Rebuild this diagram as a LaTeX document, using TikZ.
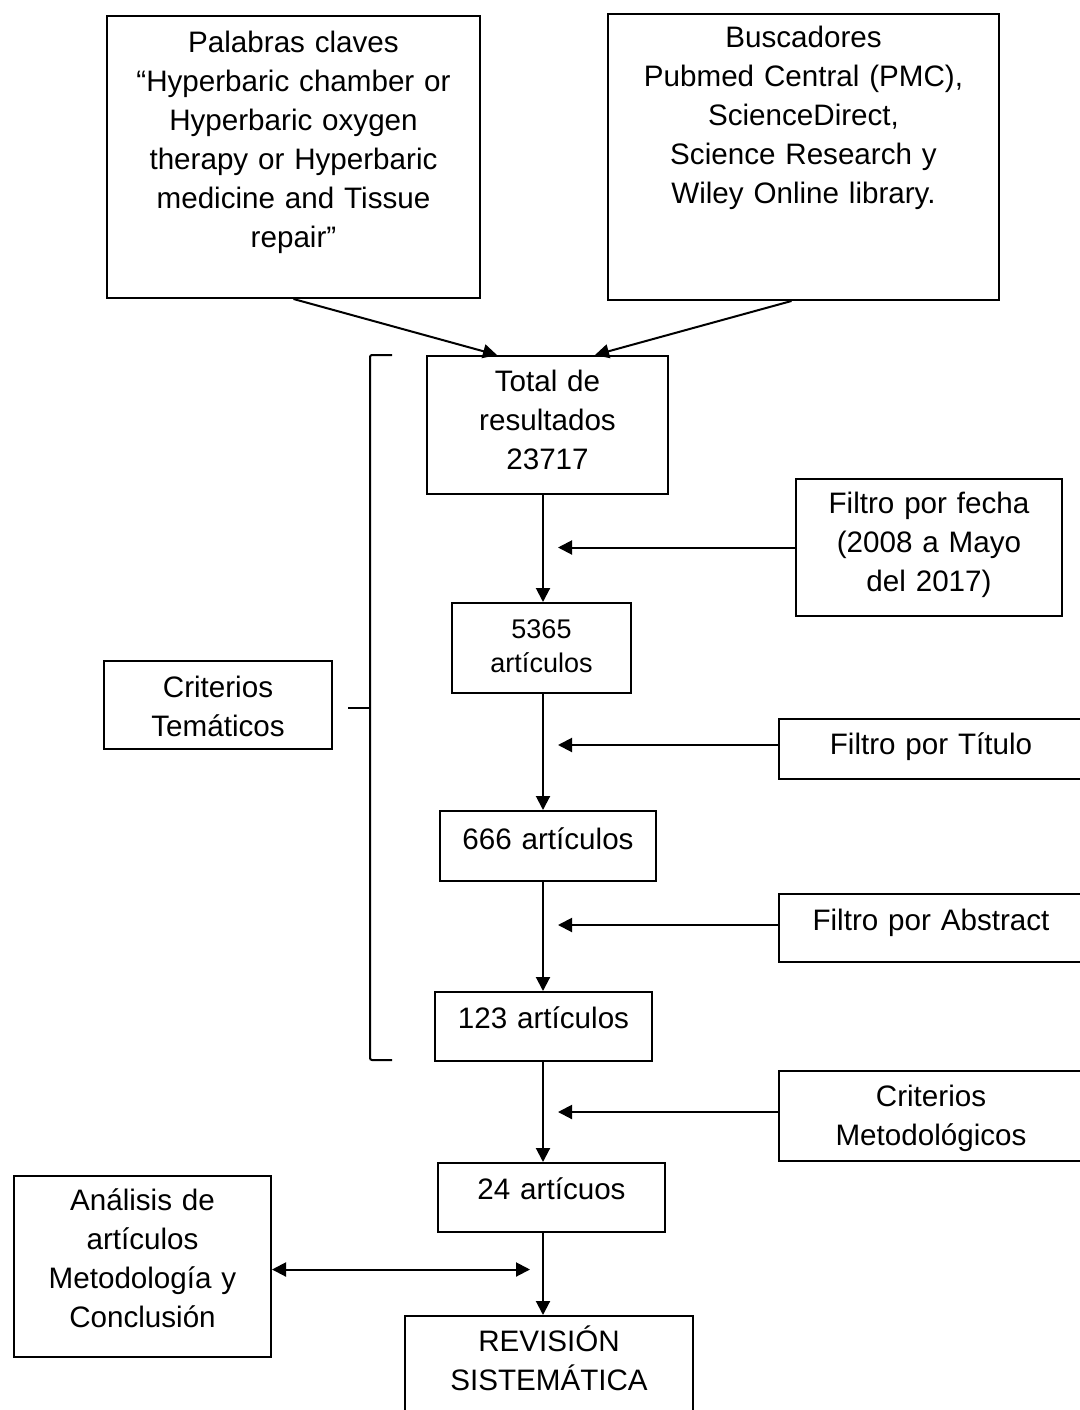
\documentclass[tikz,border=0pt]{standalone}
\usepackage{fontspec}
\setmainfont{Liberation Sans}
\usetikzlibrary{arrows.meta}
\tikzset{
  every picture/.style={x=1pt, y=-1pt, line width=2pt},
  box/.style={draw, anchor=north west, align=center, inner sep=0pt, font=\fontsize{29.6}{39}\selectfont},
  arrow/.style={-{Triangle[length=14pt, width=14pt]}, line width=2pt},
  both/.style={{Triangle[length=14pt, width=14pt]}-{Triangle[length=14pt, width=14pt]}, line width=2pt},
}
\begin{document}
\begin{tikzpicture}[
  small/.style={box, font=\fontsize{27}{34}\selectfont}]
  \useasboundingbox (0,0) rectangle (1079,1410);
  % sources
  \node[box, text width=373pt, text height=37pt, text depth=245pt] (claves) at (106,15)
    {Palabras claves\\“Hyperbaric chamber or\\Hyperbaric oxygen\\therapy or Hyperbaric\\medicine and Tissue\\repair”};
  \node[box, text width=391pt, text height=34pt, text depth=252pt] (buscad) at (607,13)
    {Buscadores\\Pubmed Central (PMC),\\ScienceDirect,\\Science Research y\\Wiley Online library.};
  % main column
  \node[box, text width=241pt, text height=35pt, text depth=103pt] (total) at (426,355)
    {Total de\\resultados\\23717};
  \node[small, text width=179pt, text height=35pt, text depth=55pt] (n5365) at (451,602)
    {5365\\artículos};
  \node[box, text width=216pt, text height=38pt, text depth=32pt] (n666) at (439,810)
    {666 artículos};
  \node[box, text width=217pt, text height=36pt, text depth=33pt] (n123) at (434,991)
    {123 artículos};
  \node[box, text width=227pt, text height=36pt, text depth=33pt] (n24) at (437,1162)
    {24 artícuos};
  \node[box, text width=288pt, text height=35pt, text depth=75pt] (revision) at (404,1315)
    {REVISIÓN\\SISTEMÁTICA};
  % filters
  \node[box, text width=266pt, text height=34pt, text depth=103pt] (fecha) at (795,478)
    {Filtro por fecha\\(2008 a Mayo\\del 2017)};
  \node[box, text width=304pt, text height=35pt, text depth=25pt] (titulo) at (778,718)
    {Filtro por Título};
  \node[box, text width=304pt, text height=36pt, text depth=32pt] (abstract) at (778,893)
    {Filtro por Abstract};
  \node[box, text width=304pt, text height=35pt, text depth=55pt] (metodo) at (778,1070)
    {Criterios\\Metodológicos};
  % left side
  \node[box, text width=228pt, text height=36pt, text depth=52pt] (tematicos) at (103,660)
    {Criterios\\Temáticos};
  \node[box, text width=257pt, text height=34pt, text depth=147pt] (analisis) at (13,1175)
    {Análisis de\\artículos\\Metodología y\\Conclusión};
  \coordinate (spine) at (543,0);
  \coordinate (stop) at (558,0);
  \coordinate (dbl) at (530,0);
  % arrows
  \draw[arrow] (claves.south) -- ([xshift=71pt]total.north west);
  \draw[arrow] ([xshift=-12pt]buscad.south) -- ([xshift=-74pt]total.north east);
  \draw[arrow] (total.south -| spine) -- (n5365.north -| spine);
  \draw[arrow] (n5365.south -| spine) -- (n666.north -| spine);
  \draw[arrow] (n666.south -| spine) -- (n123.north -| spine);
  \draw[arrow] (n123.south -| spine) -- (n24.north -| spine);
  \draw[arrow] (n24.south -| spine) -- (revision.north -| spine);
  \draw[arrow] (fecha.west) -- (fecha.west -| stop);
  \draw[arrow] ([yshift=4pt]titulo.west) -- ([yshift=4pt]titulo.west -| stop);
  \draw[arrow] ([yshift=3pt]abstract.west) -- ([yshift=3pt]abstract.west -| stop);
  \draw[arrow] ([yshift=4pt]metodo.west) -- ([yshift=4pt]metodo.west -| stop);
  \draw[both] ([yshift=-3pt]analisis.east) -- ([yshift=-3pt]analisis.east -| dbl);
  % bracket
  \draw[rounded corners=2pt] (392,355) -- (370,355) -- (370,1060) -- (392,1060);
  \draw (370,708) -- (348,708);
\end{tikzpicture}
\end{document}
